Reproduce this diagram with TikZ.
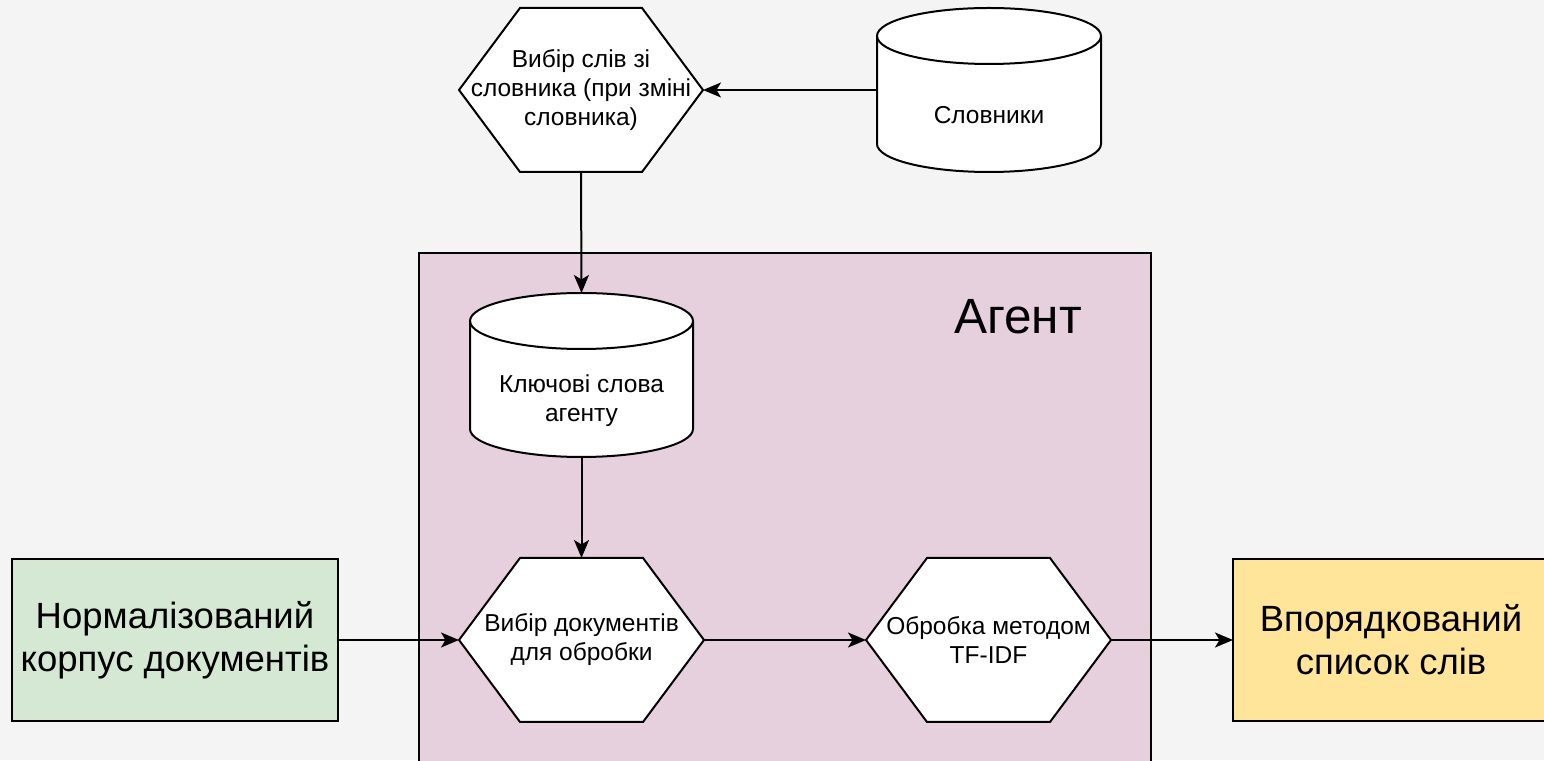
\documentclass[tikz,border=0pt]{standalone}
\usepackage{fontspec}
\setmainfont{Liberation Sans}
\usetikzlibrary{arrows.meta}
\pgfdeclarelayer{bglayer}
\pgfdeclarelayer{shapelayer}
\pgfsetlayers{bglayer,shapelayer,main}
\definecolor{bgc}{HTML}{F4F4F4}
\definecolor{agentc}{HTML}{E6D0DE}
\definecolor{greenc}{HTML}{D5E8D4}
\definecolor{yellowc}{HTML}{FFE599}
\newcommand\myhexpath[2]{(#1.west) -- ([xshift=#2]#1.north west) -- ([xshift=-#2]#1.north east) -- (#1.east) -- ([xshift=-#2]#1.south east) -- ([xshift=#2]#1.south west) -- cycle}
\newcommand\mycylbody[3]{([yshift=-#3]#1.north west) arc[start angle=180,end angle=0,x radius=#2,y radius=#3] -- ([yshift=#3]#1.south east) arc[start angle=0,end angle=-180,x radius=#2,y radius=#3] -- cycle}
\newcommand\mycyltop[3]{([yshift=-#3]#1.north west) arc[start angle=180,end angle=360,x radius=#2,y radius=#3]}
\begin{document}
\begin{tikzpicture}[x=1pt,y=1pt,
  shapebox/.style={draw=none,outer sep=0pt,inner sep=0pt,align=center,font=\fontsize{24.5pt}{29pt}\selectfont},
  bigbox/.style={draw=black,line width=2pt,outer sep=0pt,inner sep=0pt,align=center,font=\fontsize{36.5pt}{43pt}\selectfont},
  outl/.style={draw=black,line width=2pt,fill=white,line join=miter},
  arr/.style={line width=2pt,-{Stealth[length=18pt,width=15pt,inset=4.5pt]}},
  smalltext/.style={align=center,inner sep=0pt,font=\fontsize{24.5pt}{29pt}\selectfont}]
\useasboundingbox (0,0) rectangle (1544,760);

% Background and agent container
\begin{pgfonlayer}{bglayer}
\fill[bgc] (0,0) rectangle (1544,760);
\node[draw=black,line width=2pt,fill=agentc,minimum width=732,minimum height=530,outer sep=0pt,inner sep=0pt] (agent) at (785,242) {};
\end{pgfonlayer}
\node[inner sep=0pt,font=\fontsize{49.5pt}{56pt}\selectfont] (agentlbl) at (1018,443) {Агент};

% Hexagons
\node[shapebox,minimum width=244,minimum height=164] (hexsel) at (581,670) {Вибір слів зі\\словника (при зміні\\словника)};
\node[shapebox,minimum width=245,minimum height=164] (hexdoc) at (581.5,120) {Вибір документів\\для обробки};
\node[shapebox,minimum width=245,minimum height=164] (hextf) at (988.5,120) {Обробка методом\\TF-IDF};

% Cylinders
\node[shapebox,minimum width=224,minimum height=164] (slov) at (989,670) {};
\node[smalltext] (slovtxt) at (989,645) {Словники};
\node[shapebox,minimum width=223,minimum height=164] (kw) at (581.5,385) {};
\node[smalltext] (kwtxt) at (581.5,359) {Ключові слова\\агенту};

% Boxes
\node[bigbox,fill=greenc,minimum width=326,minimum height=162] (corpus) at (175,120) {Нормалізований\\корпус документів};
\node[bigbox,fill=yellowc,minimum width=316,minimum height=162] (sorted) at (1391,120) {Впорядкований\\список слів};

\begin{pgfonlayer}{shapelayer}
\path[outl] \myhexpath{hexsel}{61};
\path[outl] \myhexpath{hexdoc}{61};
\path[outl] \myhexpath{hextf}{61};
\path[outl] \mycylbody{slov}{112}{28};
\draw[line width=2pt] \mycyltop{slov}{112}{28};
\path[outl] \mycylbody{kw}{111.5}{28};
\draw[line width=2pt] \mycyltop{kw}{111.5}{28};
\end{pgfonlayer}

% Connectors
\draw[arr] (slov.west) -- (hexsel.east);
\draw[arr] (hexsel.south) -- (kw.north);
\draw[arr] (kw.south) -- (hexdoc.north);
\draw[arr] (corpus.east) -- (hexdoc.west);
\draw[arr] (hexdoc.east) -- (hextf.west);
\draw[arr] (hextf.east) -- (sorted.west);
\end{tikzpicture}
\end{document}
